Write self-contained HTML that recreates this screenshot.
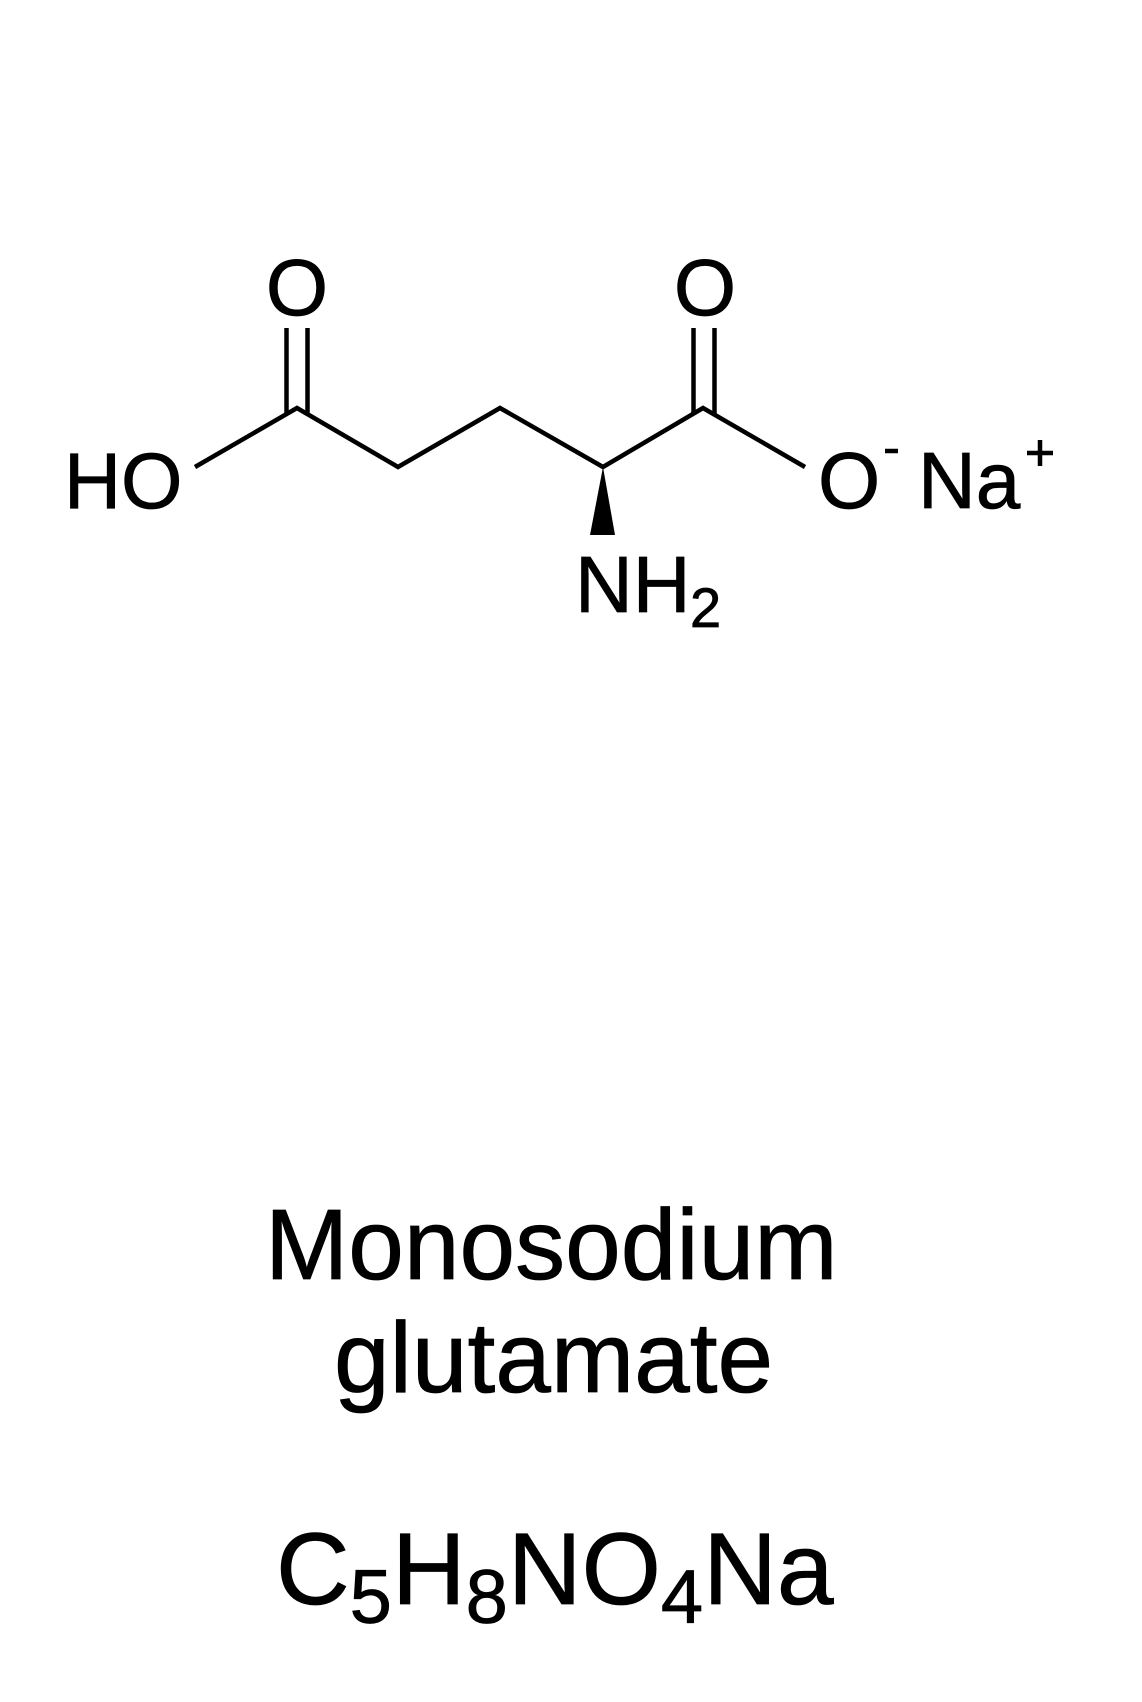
<!DOCTYPE html>
<html><head><meta charset="utf-8"><style>
html,body{margin:0;padding:0;background:#fff;}
svg{display:block}
text{font-family:"Liberation Sans",Arial,sans-serif;fill:#000;stroke:#000;stroke-width:0.8}
</style></head><body>
<svg width="1142" height="1702" viewBox="0 0 1142 1702" xmlns="http://www.w3.org/2000/svg">
<rect width="1142" height="1702" fill="#fff"/>
<g stroke="#000" stroke-width="4.5" fill="none" stroke-linecap="butt" stroke-linejoin="miter">
<polyline points="195,467 297,408 398,467 500,408 603,467 703,408 805,467"/>
<line x1="286.5" y1="328" x2="286.5" y2="414"/>
<line x1="307.5" y1="328" x2="307.5" y2="414"/>
<line x1="693.5" y1="328" x2="693.5" y2="414"/>
<line x1="714.5" y1="328" x2="714.5" y2="414"/>
<line x1="885" y1="451" x2="898" y2="451"/>
<line x1="1027" y1="453" x2="1053" y2="453"/>
<line x1="1040" y1="440" x2="1040" y2="466"/>
</g>
<polygon points="603,467 590,535 615,535" fill="#000"/>
<text x="64" y="508" font-size="79">HO</text>
<text x="297" y="315" font-size="80" text-anchor="middle">O</text>
<text x="705" y="315" font-size="80" text-anchor="middle">O</text>
<text x="818" y="508" font-size="80">O</text>
<text x="918" y="508" font-size="80">Na</text>
<text x="575" y="612" font-size="80">NH</text>
<text x="690" y="627" font-size="56">2</text>
<text x="265" y="1279" font-size="100">Monosodium</text>
<text x="334" y="1392" font-size="100">glutamate</text>
<text x="276" y="1604" font-size="102">C<tspan font-size="76" dy="19">5</tspan><tspan dy="-19">H</tspan><tspan font-size="76" dy="19">8</tspan><tspan dy="-19">NO</tspan><tspan font-size="76" dy="19">4</tspan><tspan dy="-19">Na</tspan></text>
</svg>
</body></html>
